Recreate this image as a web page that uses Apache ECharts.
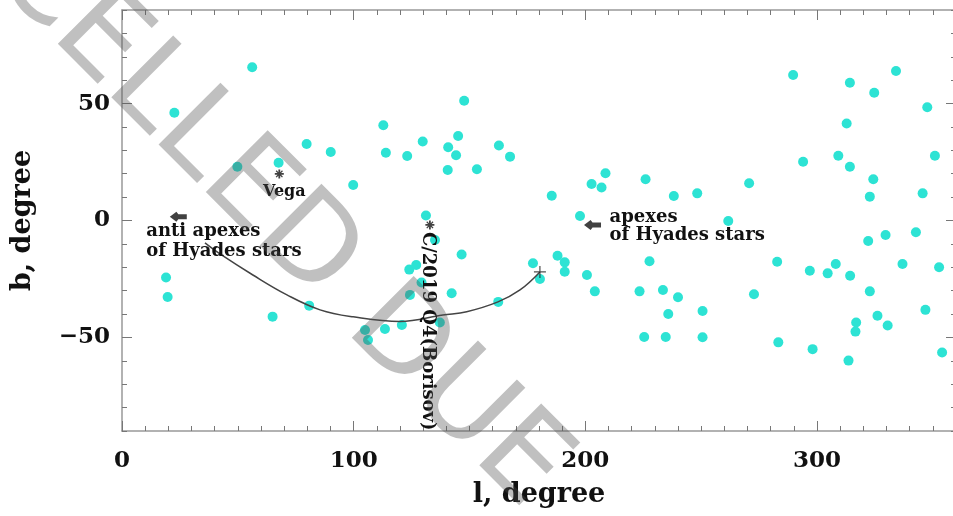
<!DOCTYPE html>
<html><head><meta charset="utf-8">
<script src="https://cdn.jsdelivr.net/npm/echarts@6/dist/echarts.min.js"></script>
<style>html,body{margin:0;padding:0;background:#fff}#c{width:953px;height:516px}</style>
</head><body><div id="c"></div>
<script>
// ---- data (galactic longitude l, latitude b, degrees) ----
const starL = [56.2,22.6,112.8,79.7,90.1,113.9,49.8,67.6,99.8,147.7,129.8,145.1,123.1,140.8,144.2,140.6,153.2,162.7,167.5,185.5,202.7,207.0,208.7,226.0,238.2,131.2,197.7,289.7,334.1,314.2,324.7,347.6,312.8,294.0,309.2,314.2,350.9,324.3,322.8,345.6,270.7,248.3,261.7,19.0,19.7,65.0,80.8,104.9,106.2,113.5,120.8,135.1,146.6,124.0,127.0,129.3,124.3,142.3,137.2,162.4,177.4,180.4,188.0,191.1,191.1,200.7,204.1,227.7,223.4,233.5,240.0,235.8,225.4,234.7,250.6,250.6,282.8,272.8,283.3,296.9,304.6,308.1,314.3,298.1,322.1,329.6,342.7,336.9,352.7,322.8,326.1,330.5,316.9,316.6,313.6,346.8,354.0];
const starB = [65.5,46.1,40.7,32.7,29.3,29.0,23.0,24.7,15.2,51.2,33.8,36.1,27.6,31.3,27.9,21.6,21.9,32.1,27.3,10.6,15.6,14.1,20.2,17.6,10.5,2.1,1.9,62.2,63.9,58.9,54.6,48.4,41.5,25.1,27.7,23.0,27.7,17.6,10.2,11.6,15.9,11.6,-0.2,-24.4,-32.7,-41.1,-36.4,-46.8,-51.1,-46.4,-44.7,-8.3,-14.5,-21.0,-19.0,-26.5,-31.8,-31.1,-43.6,-34.8,-18.3,-25.0,-15.1,-17.9,-21.9,-23.3,-30.3,-17.4,-30.3,-29.7,-32.8,-40.0,-49.8,-49.8,-38.7,-49.9,-17.6,-31.5,-52.1,-21.5,-22.6,-18.6,-23.6,-55.0,-8.8,-6.2,-5.0,-18.6,-20.0,-30.3,-40.7,-44.9,-43.6,-47.5,-59.9,-38.2,-56.4];
// comet path (arc)
const pathL = [35.8,42.3,56.5,71.2,85.5,99.8,120.0,138.5,148.8,162.3,171.8,180.4];
const pathB = [-9.6,-14.3,-23.3,-31.8,-38.2,-41.2,-43.2,-40.4,-39.0,-34.8,-29.7,-22.0];
const vega = [67.9, 19.9];
const antiApex = [24.3, 1.6];
const apex = [203.1, -1.9];
const borisov = [132.9, -1.9];
const pathEnd = [180.4, -22.0];
// annotation texts
const vegaText = 'Vega';
const antiApexText = 'anti apexes\nof Hyades stars';
const apexText = 'apexes\nof Hyades stars';
const borisovText = 'C/2019 Q4(Borisov)';
const watermarkText = 'CANCELLED DUE';
// axes
const xRange = [0, 360];
const yRange = [-90, 90];
const xTickLabels = [0, 100, 200, 300];
const yTickLabels = [-50, 0, 50];
const minorStep = 10;

const serif = '"DejaVu Serif", "Liberation Serif", serif';
const axisGray = '#999';
const tickGray = '#777';

const chart = echarts.init(document.getElementById('c'), null, {renderer: 'canvas'});

function xAx(pos, major) {
  return {
    type: 'value', min: xRange[0], max: xRange[1], position: pos,
    interval: major ? 100 : minorStep,
    axisLine: {show: major, onZero: false, lineStyle: {color: axisGray, width: 1.5}},
    axisTick: {show: true, inside: true, length: major ? 10 : 5, lineStyle: {color: tickGray, width: 1}},
    axisLabel: {show: major && pos === 'bottom', margin: 19, color: '#111', fontFamily: serif, fontWeight: 'bold', fontSize: 23,
      formatter: v => xTickLabels.indexOf(v) >= 0 ? String(v) : ''},
    splitLine: {show: false},
    name: (major && pos === 'bottom') ? 'l, degree' : '',
    nameLocation: 'middle', nameGap: 50,
    nameTextStyle: {color: '#111', fontFamily: serif, fontWeight: 'bold', fontSize: 27}
  };
}
function yAx(pos, major) {
  const o = {
    type: 'value', min: yRange[0], max: yRange[1], position: pos,
    axisLine: {show: major, onZero: false, lineStyle: {color: axisGray, width: 1.5}},
    axisTick: {show: true, inside: true, length: major ? 10 : 5, lineStyle: {color: tickGray, width: 1}},
    axisLabel: {show: major && pos === 'left', margin: 12, color: '#111', fontFamily: serif, fontWeight: 'bold', fontSize: 23,
      formatter: v => v < 0 ? '\u2212' + Math.abs(v) : String(v)},
    splitLine: {show: false},
    name: (major && pos === 'left') ? 'b, degree' : '',
    nameLocation: 'middle', nameGap: 86, nameRotate: 90,
    nameTextStyle: {color: '#111', fontFamily: serif, fontWeight: 'bold', fontSize: 27}
  };
  if (major) {
    o.axisTick.customValues = yTickLabels;
    o.axisLabel.customValues = yTickLabels;
  } else {
    o.interval = minorStep;
  }
  return o;
}

const arrowPath = 'path://M0,5L7,0L9,2.5H18V7.5H9L7,10Z';
const starPath = 'path://M4,0H6V3L8,1L9,2L7,4H10V6H7L9,8L8,9L6,7V10H4V7L2,9L1,8L3,6H0V4H3L1,2L2,1L4,3Z';
const plusPath = 'path://M5.4,0H6.6V5.4H12V6.6H6.6V12H5.4V6.6H0V5.4H5.4Z';

const option = {
  backgroundColor: '#fff',
  animation: false,
  grid: {left: 122, top: 10, width: 834, height: 421, containLabel: false, outerBoundsMode: 'none'},
  xAxis: [xAx('bottom', true), xAx('bottom', false), xAx('top', true), xAx('top', false)],
  yAxis: [yAx('left', true), yAx('left', false), yAx('right', true), yAx('right', false)],
  series: [
    {type: 'scatter', name: 'stars', data: starL.map((l, i) => [l, starB[i]]),
      symbol: 'circle', symbolSize: 10, itemStyle: {color: '#2de3d4', opacity: 1}, z: 2},
    {type: 'line', name: 'path', data: pathL.map((l, i) => [l, pathB[i]]), smooth: 0.4,
      showSymbol: false, lineStyle: {color: '#444', width: 1.5}, z: 3},
    {type: 'scatter', name: 'end', data: [pathEnd], symbol: plusPath, symbolSize: 12,
      itemStyle: {color: '#222'}, z: 4},
    {type: 'scatter', name: 'vega', data: [vega], symbol: starPath, symbolSize: 9,
      itemStyle: {color: '#111'}, z: 4},
    {type: 'scatter', name: 'borisov', data: [borisov], symbol: starPath, symbolSize: 9,
      itemStyle: {color: '#111'}, z: 4},
    {type: 'scatter', name: 'antiapex', data: [antiApex], symbol: arrowPath, symbolSize: [17, 10],
      itemStyle: {color: '#111'}, z: 4},
    {type: 'scatter', name: 'apex', data: [apex], symbol: arrowPath, symbolSize: [17, 10],
      itemStyle: {color: '#111'}, z: 4}
  ]
};
chart.setOption(option);

// annotation texts placed next to their markers (pixel offsets from the marker)
const px = p => chart.convertToPixel({gridIndex: 0}, p);
const annFont = {fontFamily: serif, fontWeight: 'bold', fontSize: 18, fill: '#111'};
const pV = px(vega), pA = px(antiApex), pP = px(apex), pB = px(borisov);
const rot = -45 * Math.PI / 180;
chart.setOption({
  graphic: [
    {type: 'text', x: pV[0] + 5, y: pV[1] + 18, z: 50, silent: true,
      style: Object.assign({text: vegaText, align: 'center', verticalAlign: 'middle'}, annFont, {fontSize: 16})},
    {type: 'text', x: pA[0] - 32, y: pA[1] + 5, z: 50, silent: true,
      style: Object.assign({text: antiApexText, align: 'left', verticalAlign: 'top', lineHeight: 20}, annFont)},
    {type: 'text', x: pP[0] + 17, y: pP[1] - 17, z: 50, silent: true,
      style: Object.assign({text: apexText, align: 'left', verticalAlign: 'top', lineHeight: 18}, annFont)},
    {type: 'text', x: pB[0] - 2, y: pB[1] + 7, rotation: -Math.PI / 2, z: 50, silent: true,
      style: Object.assign({text: borisovText, align: 'left', verticalAlign: 'middle'}, annFont, {fontSize: 18})},
    {type: 'text', x: 189, y: 131, rotation: rot, z: 100, silent: true,
      style: {text: watermarkText, fontFamily: '"DejaVu Sans", sans-serif', fontSize: 120,
        fill: 'rgba(80,80,80,0.36)', align: 'center', verticalAlign: 'middle'}}
  ]
});
</script>
</body></html>
